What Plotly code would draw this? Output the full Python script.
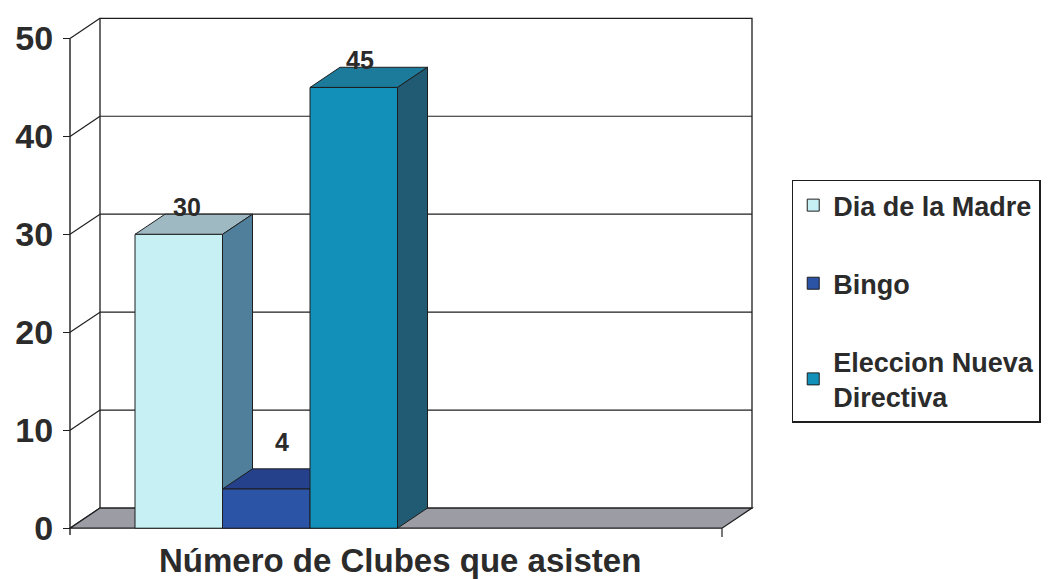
import plotly.graph_objects as go

# ---- data -------------------------------------------------------------
series = ["Dia de la Madre", "Bingo", "Eleccion Nueva<br>Directiva"]
values = [30, 4, 45]
y_ticks = [0, 10, 20, 30, 40, 50]
x_title = "Número de Clubes que asisten"

# ---- style ------------------------------------------------------------
front_colors = ["#c6f0f3", "#2b53a6", "#1290b9"]
top_colors = ["#9fb9c3", "#25418c", "#1c7b9b"]
side_colors = ["#4f7f9a", "#1f3670", "#215a73"]
floor_color = "#9b9ca4"
edge = "#1e1e1e"
text_color = "#2b2b2b"
FONT = "Liberation Sans, Arial, sans-serif"

FLOOR_W = 652          # length of the front floor edge (x units)
DX, DV = 30, 2.06      # 3-D depth offset: x units, value units
BAR_LEFT0 = 65         # left edge of the first bar
BAR_W = 87.5           # bar width
V_TOP = 50             # top of the value axis
label_nudge = [8, 16, 6]     # x offset of value labels
label_lift = [7, 27, 7]      # pixel lift of value labels

X0, X1 = -2, FLOOR_W + DX + 2
Y0, Y1 = -1, 52.5

fig = go.Figure()


def poly(pts, fill, width=1.0, color=edge):
    d = "M " + " L ".join(f"{x},{y}" for x, y in pts) + " Z"
    fig.add_shape(type="path", path=d, xref="x", yref="y", layer="below",
                  fillcolor=fill, line=dict(color=color, width=width))


def seg(x0, y0, x1, y1, width=1.2):
    fig.add_shape(type="line", x0=x0, y0=y0, x1=x1, y1=y1, xref="x", yref="y",
                  layer="below", line=dict(color=edge, width=width))


# back wall with its gridlines
poly([(DX, DV), (FLOOR_W + DX, DV), (FLOOR_W + DX, V_TOP + DV), (DX, V_TOP + DV)],
     "white", width=1.3)
for t in y_ticks[1:-1]:
    seg(DX, t + DV, FLOOR_W + DX, t + DV)
# left wall: diagonal lines from each tick back to the wall
for t in y_ticks:
    seg(0, t, DX, t + DV)
# floor
poly([(0, 0), (FLOOR_W, 0), (FLOOR_W + DX, DV), (DX, DV)], floor_color, width=1.3)
seg(FLOOR_W, 0, FLOOR_W, -0.9)
# value axis line
seg(0, -0.7, 0, V_TOP, width=1.4)

# bars: top and side faces as shapes, front faces as bar traces
centers = []
for i, (name, v) in enumerate(zip(series, values)):
    xl = BAR_LEFT0 + i * BAR_W
    xr = xl + BAR_W
    centers.append((xl + xr) / 2)
    # top face
    poly([(xl, v), (xr, v), (xr + DX, v + DV), (xl + DX, v + DV)], top_colors[i])
    # side face
    poly([(xr, 0), (xr + DX, DV), (xr + DX, v + DV), (xr, v)], side_colors[i])

for i, (name, v) in enumerate(zip(series, values)):
    fig.add_trace(go.Bar(
        x=[centers[i]], y=[v], width=BAR_W, name=name,
        legendgroup=f"g{i}",
        marker=dict(color=front_colors[i], line=dict(color=edge, width=1)),
        hoverinfo="skip",
    ))
    fig.add_annotation(
        x=centers[i] + label_nudge[i], y=v + DV, xref="x", yref="y",
        text=str(v), showarrow=False, yanchor="middle", yshift=label_lift[i],
        font=dict(family=FONT, size=25, color=text_color, weight="bold"),
    )

# axis title
fig.add_annotation(
    x=(FLOOR_W / 2 + 4), y=-0.042, xref="x", yref="paper",
    text=x_title, showarrow=False, yanchor="middle",
    font=dict(family=FONT, size=33, color=text_color, weight="bold"),
)

fig.update_layout(
    width=1051, height=579, autosize=False,
    margin=dict(l=68, r=297, t=14, b=41, pad=0, autoexpand=False),
    paper_bgcolor="white", plot_bgcolor="white",
    barmode="overlay",
    xaxis=dict(range=[X0, X1], visible=False, fixedrange=True),
    yaxis=dict(
        range=[Y0, Y1], tickvals=y_ticks, ticks="outside", ticklen=7,
        tickwidth=1.3, tickcolor=edge, showgrid=False, zeroline=False,
        showline=False, anchor="free", position=(0 - X0) / (X1 - X0),
        tickfont=dict(family=FONT, size=34, color=text_color, weight="bold"),
        ticklabelstandoff=3,
        fixedrange=True,
    ),
    showlegend=True,
    legend=dict(
        x=1.055, y=0.684, xanchor="left", yanchor="top",
        bgcolor="white", bordercolor=edge, borderwidth=1.5,
        font=dict(family=FONT, size=27, color=text_color, weight="bold"),
        tracegroupgap=40, itemwidth=30, traceorder="grouped",
    ),
)

fig.write_html("out.html")
